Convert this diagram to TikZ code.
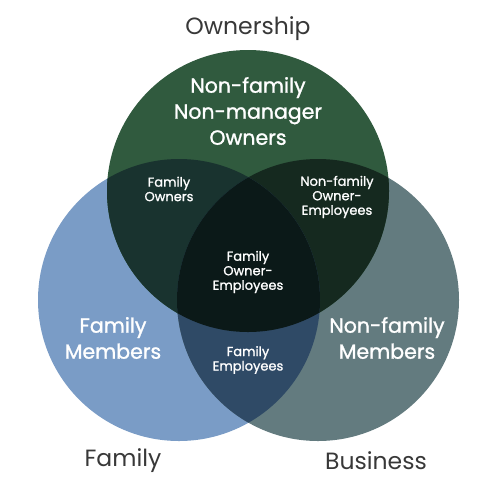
\documentclass[tikz,border=0pt]{standalone}
\usepackage{fontspec}
\setmainfont{Poppins}
\newfontfamily\medfont{Poppins}[FakeBold=1.2]
\definecolor{cown}{HTML}{305A3E}
\definecolor{cfam}{HTML}{7A9CC6}
\definecolor{cbus}{HTML}{637B7F}
\definecolor{cof}{HTML}{19332F}
\definecolor{cob}{HTML}{15291F}
\definecolor{cfb}{HTML}{2F4A66}
\definecolor{call}{HTML}{0B1918}
\definecolor{ctitle}{HTML}{383838}
\tikzset{
  title/.style={text=ctitle, font=\fontsize{23.5}{26}\selectfont},
  big/.style={text=white, align=center, font=\medfont\fontsize{20.5}{26}\selectfont},
  small/.style={text=white, align=center, font=\medfont\fontsize{13}{14.5}\selectfont},
}
\begin{document}
\begin{tikzpicture}[x=1pt,y=-1pt]
\useasboundingbox (0,0) rectangle (500,491);
\def\rr{141}
\coordinate (O) at (248,191);
\coordinate (F) at (179,300);
\coordinate (B) at (318,300);
\fill[cfam] (F) circle (\rr);
\fill[cbus] (B) circle (\rr);
\fill[cown] (O) circle (\rr);
\begin{scope}
  \clip (O) circle (\rr);
  \fill[cof] (F) circle (\rr);
  \fill[cob] (B) circle (\rr);
\end{scope}
\begin{scope}
  \clip (F) circle (\rr);
  \fill[cfb] (B) circle (\rr);
\end{scope}
\begin{scope}
  \clip (F) circle (\rr);
  \clip (B) circle (\rr);
  \fill[call] (O) circle (\rr);
\end{scope}
\node[title] (town) at (248,29) {Ownership};
\node[title] (tfam) at (123,461) {Family};
\node[title] (tbus) at (376,461) {Business};
\node[big] (nnmo) at (248,111) {Non-family\\Non-manager\\Owners};
\node[big] (fm) at (113,338) {Family\\Members};
\node[big] (nfm) at (387,338) {Non-family\\Members};
\node[small] (fo) at (169,189) {Family\\Owners};
\node[small] (nfoe) at (337,197) {Non-family\\Owner-\\Employees};
\node[small] (foe) at (248,272) {Family\\Owner-\\Employees};
\node[small] (fe) at (248,360) {Family\\Employees};
\end{tikzpicture}
\end{document}
